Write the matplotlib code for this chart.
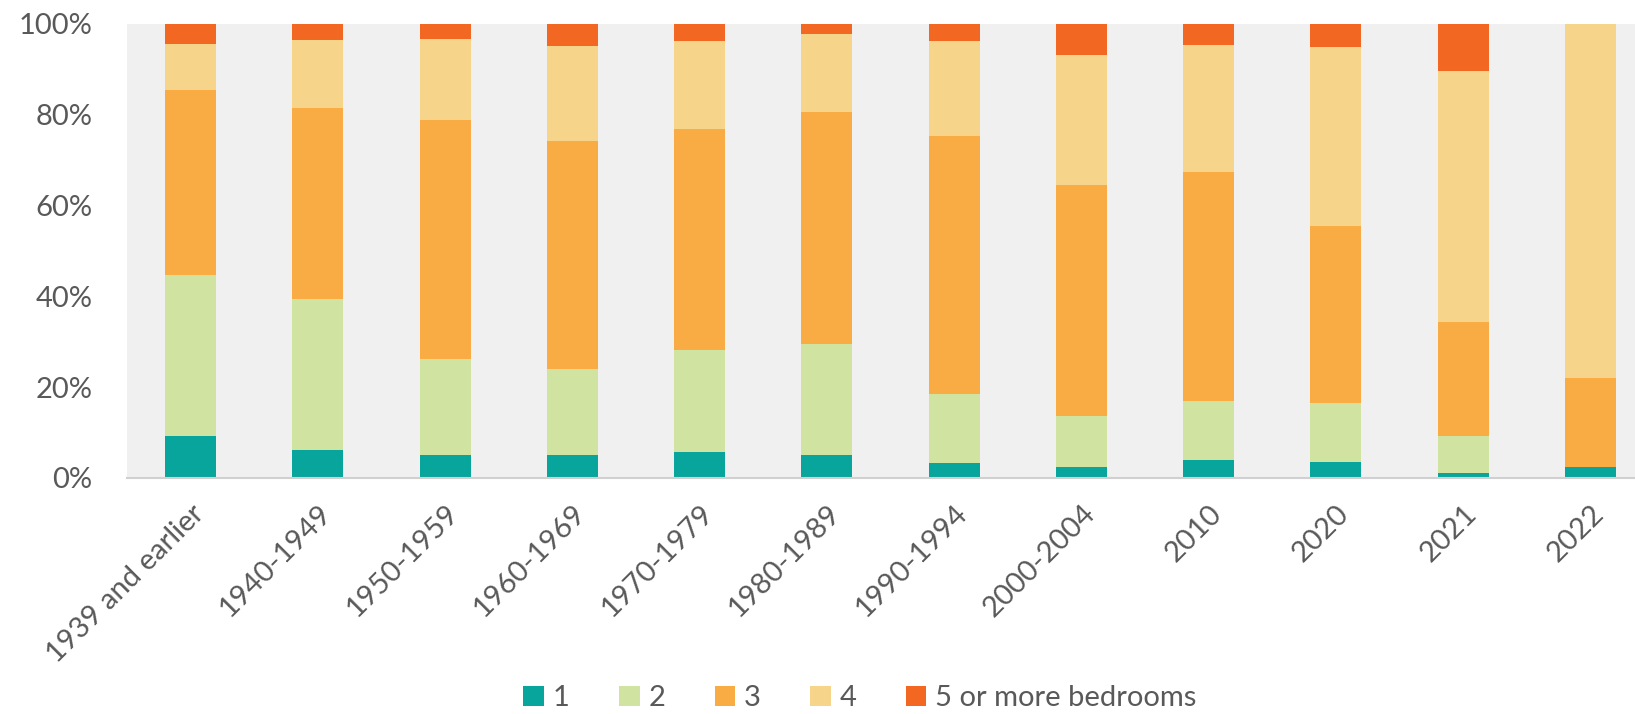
import numpy as np
import matplotlib
matplotlib.use("Agg")
import matplotlib.pyplot as plt

# periods of construction
periods = ["1939 and earlier", "1940-1949", "1950-1959", "1960-1969", "1970-1979",
           "1980-1989", "1990-1994", "2000-2004", "2010", "2020", "2021", "2022"]

# share of dwellings (%) by number of bedrooms
bed_1 = [9.3, 6.2, 5.0, 5.1, 5.8, 5.0, 3.2, 2.5, 3.9, 3.5, 1.1, 2.5]
bed_2 = [35.5, 33.2, 21.2, 18.8, 22.3, 24.6, 15.3, 11.1, 13.1, 13.1, 8.2, 0.0]
bed_3 = [40.7, 42.2, 52.6, 50.4, 48.8, 51.0, 56.9, 50.9, 50.4, 38.8, 25.1, 19.5]
bed_4 = [10.2, 14.8, 18.0, 20.8, 19.3, 17.3, 20.8, 28.7, 28.0, 39.5, 55.3, 78.0]
bed_5 = [4.3, 3.6, 3.2, 4.9, 3.8, 2.1, 3.8, 6.8, 4.6, 5.1, 10.3, 0.0]

series = [bed_1, bed_2, bed_3, bed_4, bed_5]
labels = ["1", "2", "3", "4", "5 or more bedrooms"]
colors = ["#08a59c", "#d1e3a0", "#f9ac43", "#f6d58a", "#f26722"]

text_col = "#595959"
plt.rcParams["font.family"] = ["Lato", "DejaVu Sans"]

fig = plt.figure(figsize=(16.35, 7.14), dpi=100)
ax = fig.add_axes([127 / 1635, 1 - 478 / 714, 1 - 127 / 1635, (478 - 24) / 714])
ax.set_facecolor("#f0f0f0")

x = np.arange(len(periods))
bottom = np.zeros(len(periods))
for vals, lab, col in zip(series, labels, colors):
    vals = np.array(vals)
    ax.bar(x, vals, width=0.40, bottom=bottom, color=col, label=lab, linewidth=0)
    bottom += vals

ax.set_xlim(-0.5, 11.35)
ax.set_ylim(0, 100)
ax.set_yticks(np.arange(0, 101, 20))
ax.set_yticklabels([f"{v}%" for v in range(0, 101, 20)])
ax.set_xticks(x)
ax.set_xticklabels(periods, rotation=45, ha="right", rotation_mode="anchor")

ax.tick_params(axis="y", length=0, pad=25, labelsize=21, labelcolor=text_col)
ax.tick_params(axis="x", length=0, pad=16, labelsize=21, labelcolor=text_col)

for s in ["top", "right", "left"]:
    ax.spines[s].set_visible(False)
ax.spines["bottom"].set_color("#d0d0d0")
ax.spines["bottom"].set_linewidth(1.5)

fig.legend(loc="center", bbox_to_anchor=(860 / 1635, 1 - 698 / 714), ncol=5,
           frameon=False, fontsize=21, labelcolor=text_col,
           handlelength=0.7, handleheight=0.7, handletextpad=0.3, columnspacing=1.7)

fig.savefig("out.png", dpi=100)
